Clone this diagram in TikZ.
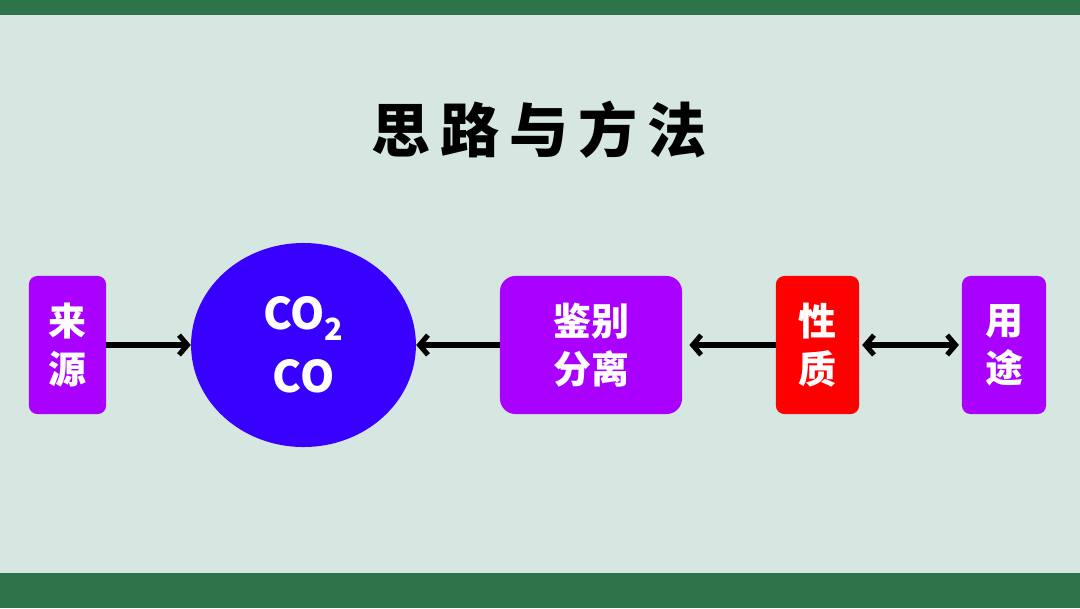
\documentclass[tikz,border=0pt]{standalone}
\usepackage{fontspec}
\usepackage{tikz}
\usetikzlibrary{arrows.meta, positioning, shapes.geometric}
\newfontfamily\cjk{Noto Sans CJK SC}
\definecolor{bgmint}{RGB}{213, 231, 224}
\definecolor{bargreen}{RGB}{46, 116, 74}
\definecolor{boxpurple}{RGB}{170, 0, 255}
\definecolor{gasblue}{RGB}{55, 0, 255}
\definecolor{propred}{RGB}{255, 0, 0}

\begin{document}
\begin{tikzpicture}[
  x=0.025cm, y=-0.025cm,
  box/.style={rectangle, fill=boxpurple, rounded corners=6pt, minimum height=3.45cm,
              inner sep=0pt, align=center, text=white,
              font=\cjk\bfseries\fontsize{27}{34}\selectfont},
  gas/.style={ellipse, fill=gasblue, minimum width=5.62cm, minimum height=5.1cm,
              inner sep=0pt, align=center, text=white,
              font=\cjk\bfseries\fontsize{31}{45}\selectfont},
  arr/.style={-{Straight Barb[length=6pt, width=14pt]}, line width=3.6pt, color=black,
              line join=round},
  dbl/.style={{Straight Barb[length=6pt, width=14pt]}-{Straight Barb[length=6pt, width=14pt]},
              line width=3.6pt, color=black, line join=round}
]
% background and bars
\fill[bgmint] (0,0) rectangle (1080,608);
\fill[bargreen] (0,0) rectangle (1080,15);
\fill[bargreen] (0,573) rectangle (1080,608);
\useasboundingbox (0,0) rectangle (1080,608);

\node[font=\cjk\bfseries\fontsize{42}{48}\selectfont] (title) at (539,130)
  {思\hspace{7pt}路\hspace{7pt}与\hspace{7pt}方\hspace{7pt}法};

\node[box, minimum width=1.93cm] (src) at (67.5,345) {来\\源};
\node[gas] (co) at (303.5,345) {CO\textsubscript{2}\\CO};
\node[box, minimum width=4.55cm, rounded corners=11pt] (sep) at (591,345) {鉴别\\分离};
\node[box, minimum width=2.08cm, fill=propred] (prop) at (817.5,345) {性\\质};
\node[box, minimum width=2.1cm] (use) at (1004,345) {用\\途};

\draw[arr] (src) -- (co);
\draw[arr] (sep) -- (co);
\draw[arr, shorten >=5pt] (prop) -- (sep);
\draw[dbl, shorten >=2pt, shorten <=2pt] (prop) -- (use);
\end{tikzpicture}
\end{document}
